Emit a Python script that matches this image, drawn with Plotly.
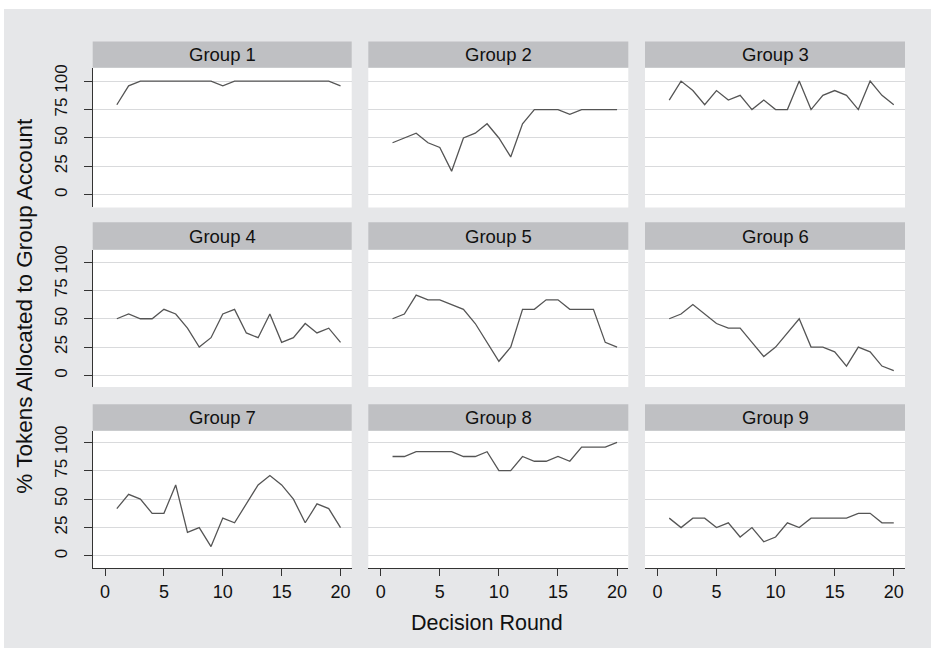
import plotly.graph_objects as go

W, H = 931, 648

rounds = list(range(1, 21))
group_names = ["Group 1", "Group 2", "Group 3", "Group 4", "Group 5",
               "Group 6", "Group 7", "Group 8", "Group 9"]

g1 = [79.2, 95.8, 100, 100, 100, 100, 100, 100, 100, 95.8, 100, 100, 100, 100, 100, 100, 100, 100, 100, 95.8]
g2 = [45.8, 50, 54.2, 45.8, 41.7, 20.8, 50, 54.2, 62.5, 50, 33.3, 62.5, 75, 75, 75, 70.8, 75, 75, 75, 75]
g3 = [83.3, 100, 91.7, 79.2, 91.7, 83.3, 87.5, 75, 83.3, 75, 75, 100, 75, 87.5, 91.7, 87.5, 75, 100, 87.5, 79.2]
g4 = [50, 54.2, 50, 50, 58.3, 54.2, 41.7, 25, 33.3, 54.2, 58.3, 37.5, 33.3, 54.2, 29.2, 33.3, 45.8, 37.5, 41.7, 29.2]
g5 = [50, 54.2, 70.8, 66.7, 66.7, 62.5, 58.3, 45.8, 29.2, 12.5, 25, 58.3, 58.3, 66.7, 66.7, 58.3, 58.3, 58.3, 29.2, 25]
g6 = [50, 54.2, 62.5, 54.2, 45.8, 41.7, 41.7, 29.2, 16.7, 25, 37.5, 50, 25, 25, 20.8, 8.3, 25, 20.8, 8.3, 4.2]
g7 = [41.7, 54.2, 50, 37.5, 37.5, 62.5, 20.8, 25, 8.3, 33.3, 29.2, 45.8, 62.5, 70.8, 62.5, 50, 29.2, 45.8, 41.7, 25]
g8 = [87.5, 87.5, 91.7, 91.7, 91.7, 91.7, 87.5, 87.5, 91.7, 75, 75, 87.5, 83.3, 83.3, 87.5, 83.3, 95.8, 95.8, 95.8, 100]
g9 = [33.3, 25, 33.3, 33.3, 25, 29.2, 16.7, 25, 12.5, 16.7, 29.2, 25, 33.3, 33.3, 33.3, 33.3, 37.5, 37.5, 29.2, 29.2]
groups = [g1, g2, g3, g4, g5, g6, g7, g8, g9]

y_ticks = [0, 25, 50, 75, 100]
x_ticks = [0, 5, 10, 15, 20]

x_title = "Decision Round"
y_title = "% Tokens Allocated to Group Account"

# layout geometry in pixels
col_px = [(92.7, 351.7), (368.3, 628.3), (645.0, 905.0)]
row_px = [(63.3, 204.0), (246.7, 385.0), (429.0, 567.3)]   # plot top, bottom
strip_px = [(36.7, 63.3), (219.0, 246.7), (402.3, 429.0)]
row_yrange = [(-11.1, 111.7), (-10.2, 110.8), (-10.5, 110.2)]

BG = "#e6e7e9"
STRIP = "#bfc0c3"
AXIS = "#333333"
GRID = "#d9dadc"
LINE = "#555555"
FONT = "Liberation Sans, Arial, sans-serif"

fig = go.Figure()
shapes = []
annotations = []
layout = {}

for i, vals in enumerate(groups):
    r, c = divmod(i, 3)
    n = i + 1
    xa = "x" if n == 1 else f"x{n}"
    ya = "y" if n == 1 else f"y{n}"
    fig.add_trace(go.Scatter(x=rounds, y=vals, mode="lines",
                             line=dict(color=LINE, width=1.3),
                             xaxis=xa, yaxis=ya, showlegend=False,
                             hoverinfo="x+y"))
    x0, x1 = col_px[c]
    top, bot = row_px[r]
    xd = [x0 / W, x1 / W]
    yd = [(H - bot) / H, (H - top) / H]
    bottom_row = (r == 2)
    left_col = (c == 0)
    layout[f"xaxis{'' if n == 1 else n}"] = dict(
        domain=xd, anchor=ya, range=[-1.05, 20.95],
        tickvals=x_ticks, ticktext=[str(t) for t in x_ticks],
        showticklabels=bottom_row, ticks="outside" if bottom_row else "",
        ticklen=7, tickwidth=1.3, tickcolor=AXIS,
        showline=bottom_row, linecolor=AXIS, linewidth=1.3,
        showgrid=False, zeroline=False,
        tickfont=dict(family=FONT, size=18, color="#111111"),
    )
    layout[f"yaxis{'' if n == 1 else n}"] = dict(
        domain=yd, anchor=xa, range=list(row_yrange[r]),
        tickvals=y_ticks, ticktext=[str(t) for t in y_ticks],
        showticklabels=left_col, ticks="outside" if left_col else "",
        ticklen=8, tickwidth=1.3, tickcolor=AXIS, tickangle=-90,
        ticklabelstandoff=10,
        showline=left_col, linecolor=AXIS, linewidth=1.3,
        showgrid=True, gridcolor=GRID, gridwidth=1.2, zeroline=False,
        tickfont=dict(family=FONT, size=17, color="#111111"),
    )
    # white plot area
    shapes.append(dict(type="rect", xref="paper", yref="paper",
                       x0=x0 / W, x1=x1 / W, y0=(H - bot) / H, y1=(H - top) / H,
                       fillcolor="white", line=dict(width=0), layer="below"))
    # strip
    s0, s1 = strip_px[r]
    shapes.append(dict(type="rect", xref="paper", yref="paper",
                       x0=x0 / W, x1=x1 / W, y0=(H - s1) / H, y1=(H - s0) / H,
                       fillcolor=STRIP, line=dict(width=0), layer="below"))
    annotations.append(dict(text=group_names[i], xref="paper", yref="paper",
                            x=(x0 + x1) / 2 / W, y=(H - (s0 + s1) / 2) / H,
                            xanchor="center", yanchor="middle", showarrow=False,
                            font=dict(family=FONT, size=18.5, color="#111111")))

# outer gray region (thin white border at top/left)
shapes.insert(0, dict(type="rect", xref="paper", yref="paper",
                      x0=4 / W, x1=1, y0=0, y1=(H - 4) / H,
                      fillcolor=BG, line=dict(width=0), layer="below"))

annotations.append(dict(text=x_title, xref="paper", yref="paper",
                        x=487 / W, y=(H - 623) / H, xanchor="center", yanchor="middle",
                        showarrow=False, font=dict(family=FONT, size=21.5, color="#111111")))
annotations.append(dict(text=y_title, xref="paper", yref="paper",
                        x=25 / W, y=(H - 303) / H, xanchor="center", yanchor="middle",
                        textangle=-90, showarrow=False,
                        font=dict(family=FONT, size=22.5, color="#111111")))

fig.update_layout(
    width=W, height=H, margin=dict(l=0, r=0, t=0, b=0),
    paper_bgcolor="white", plot_bgcolor="rgba(0,0,0,0)",
    shapes=shapes, annotations=annotations, **layout,
)

fig.write_html("out.html", config={"displayModeBar": False},
               post_script="document.body.style.margin='0';document.body.style.overflow='hidden';")
